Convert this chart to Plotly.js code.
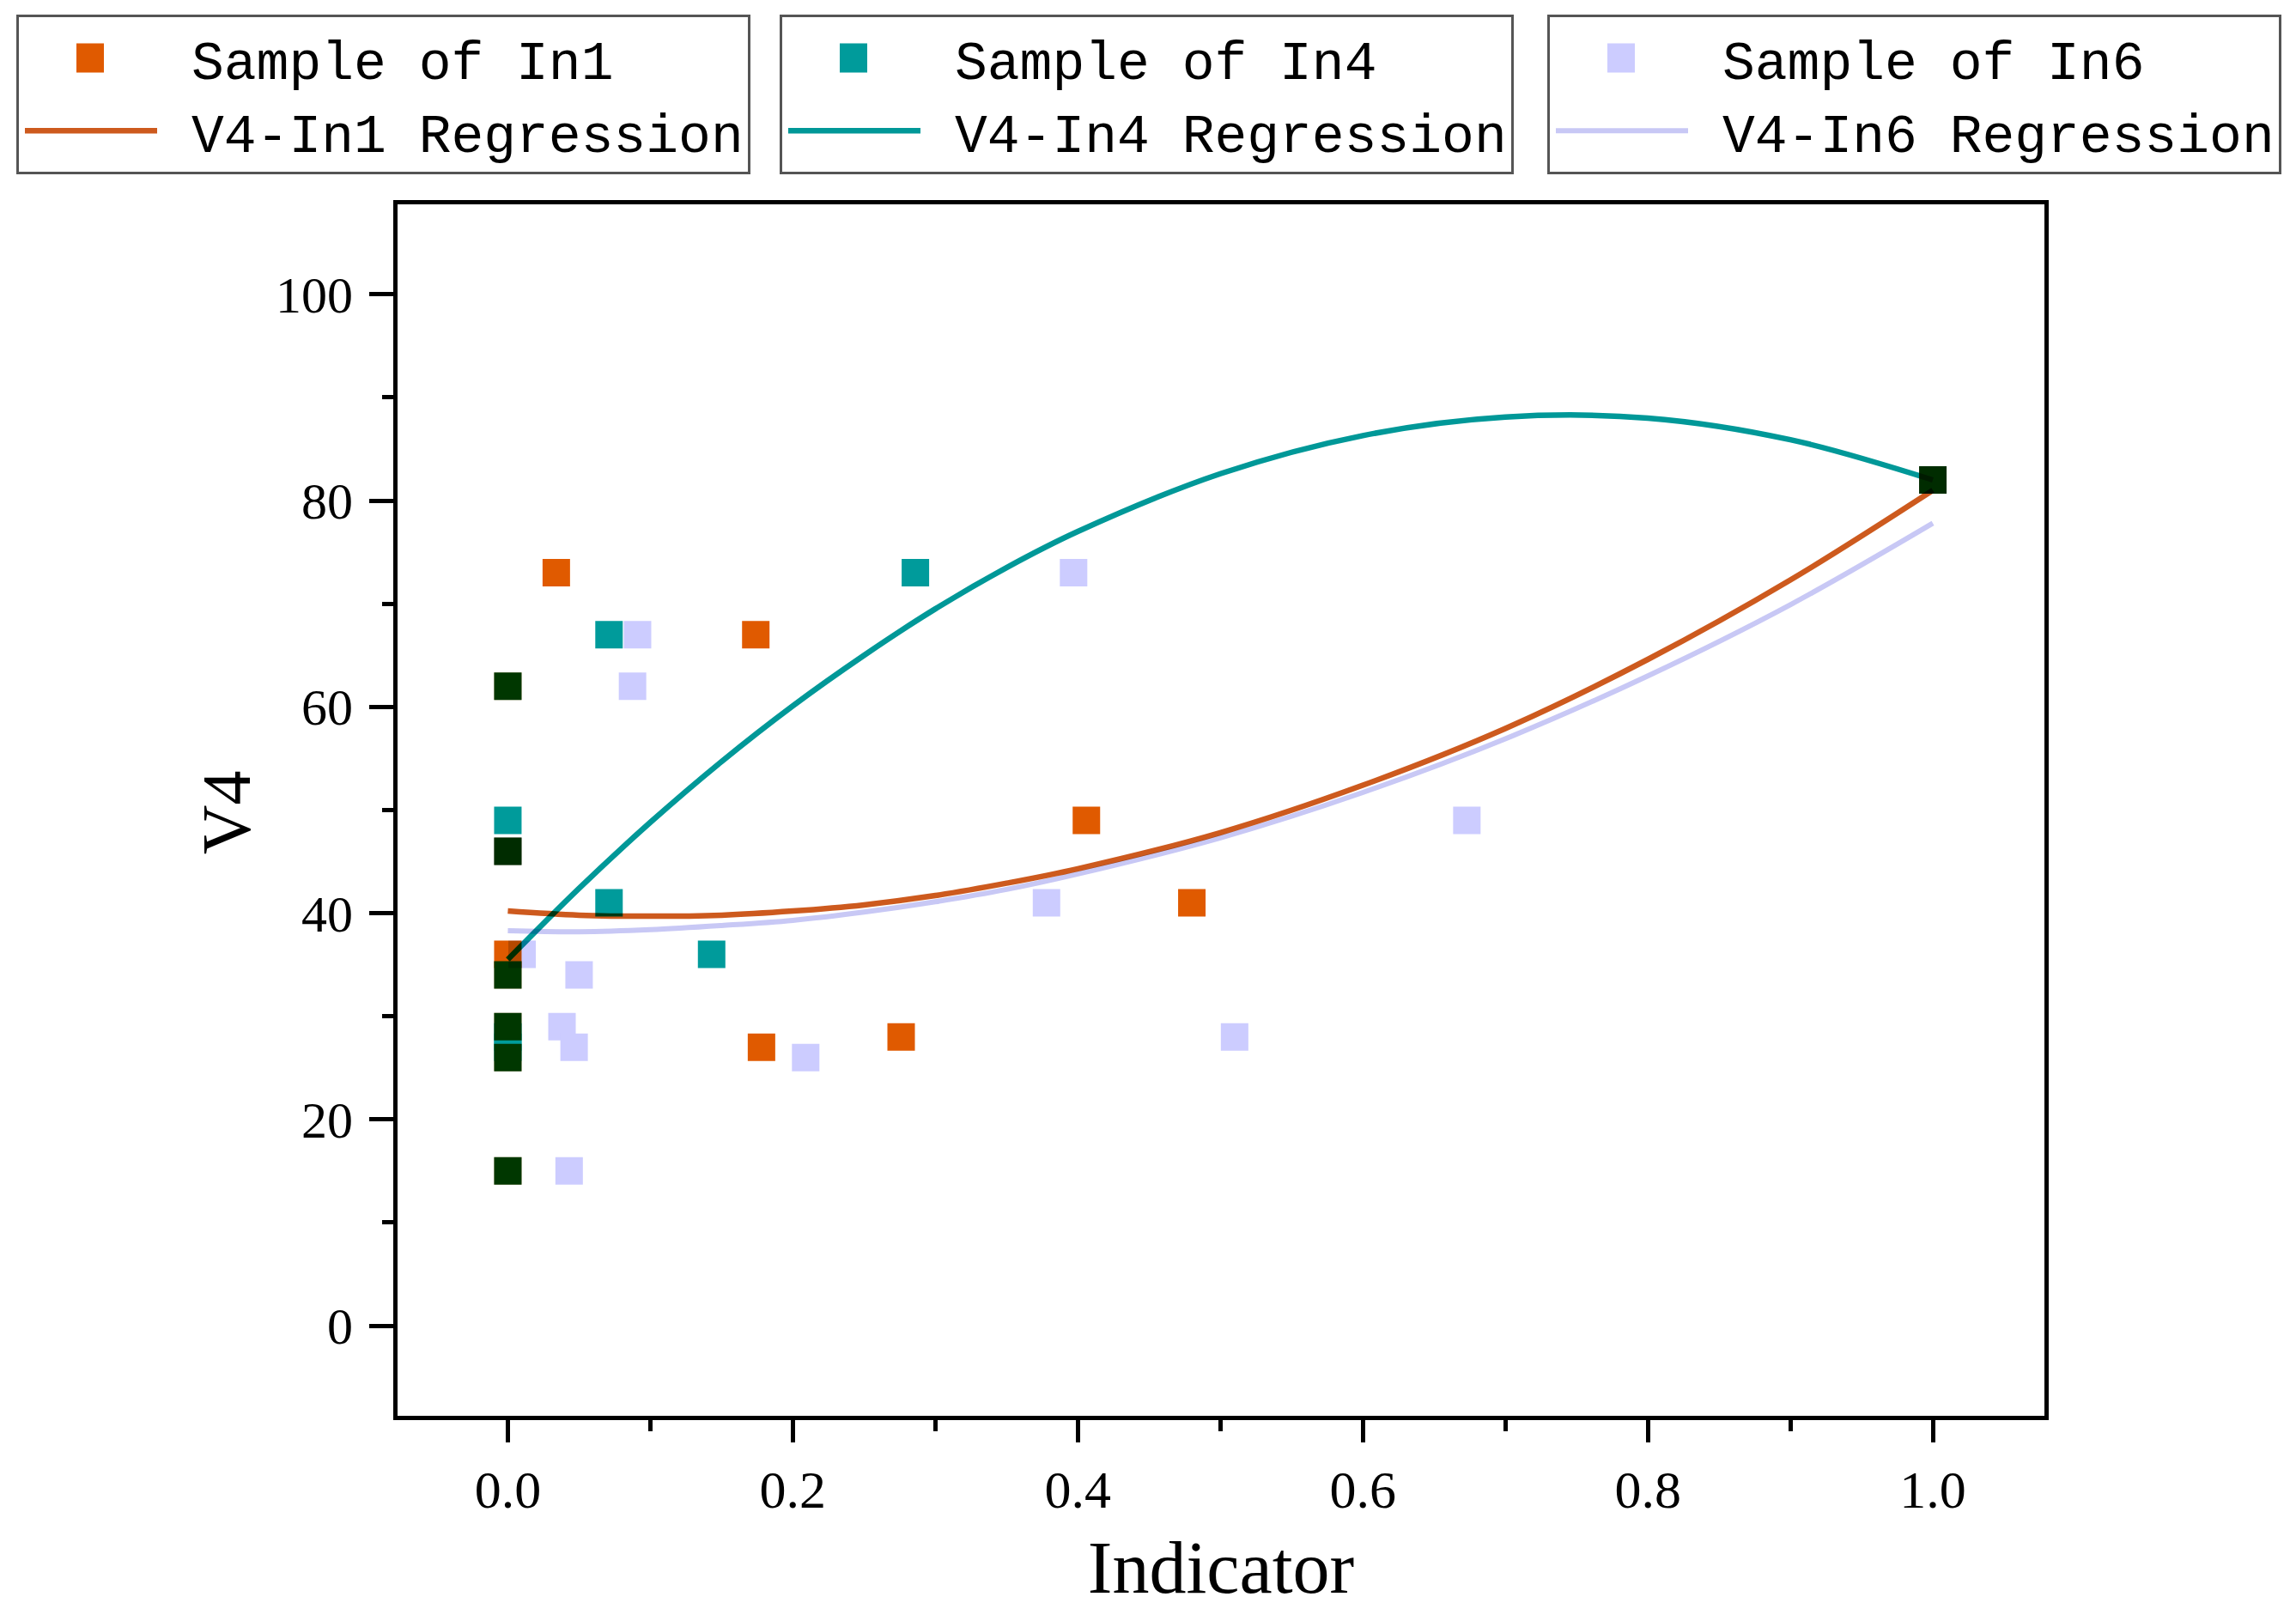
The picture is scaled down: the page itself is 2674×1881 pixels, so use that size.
<!DOCTYPE html>
<html>
<head>
<meta charset="utf-8">
<script src="https://cdn.plot.ly/plotly-3.0.1.min.js"></script>
<style>
  html, body { margin: 0; padding: 0; background: #ffffff; }
  #chart { width: 2674px; height: 1881px; }
  .js-plotly-plot .scatterlayer .trace { mix-blend-mode: multiply; }
</style>
<style id="legendfix"></style>
</head>
<body>
<div id="chart"></div>
<script>
// ---- Data ----
const v4Values = [73, 67, 62, 49, 46, 41, 36, 34, 29, 28, 27, 26, 15, 82];
const in1Values = [0.034, 0.174, 0, 0.406, 0, 0.480, 0, 0, 0, 0.276, 0.178, 0, 0, 1.0];
const in4Values = [0.286, 0.071, 0, 0, 0, 0.071, 0.143, 0, 0, 0, 0, 0, 0, 1.0];
const in6Values = [0.397, 0.091, 0.0875, 0.673, 0, 0.378, 0.010, 0.050, 0.038, 0.510, 0.0465, 0.209, 0.043, 1.0];

// regression curves at these indicator values
const regX = [0, 0.05, 0.1, 0.15, 0.2, 0.25, 0.3, 0.35, 0.4, 0.5, 0.6, 0.7, 0.8, 0.9, 1.0];
const reg1 = [40.2, 39.8, 39.7, 39.8, 40.2, 40.8, 41.7, 42.9, 44.3, 47.8, 52.4, 57.9, 64.6, 72.3, 81.0];
const reg4 = [35.5, 42.4, 48.8, 54.7, 60.1, 65.0, 69.5, 73.5, 77.0, 82.6, 86.3, 88.1, 88.0, 85.9, 82.0];
const reg6 = [38.3, 38.2, 38.4, 38.8, 39.3, 40.1, 41.1, 42.3, 43.8, 47.3, 51.7, 56.9, 63.0, 69.9, 77.8];

const xTickVals = [0, 0.2, 0.4, 0.6, 0.8, 1.0];
const xTickText = ['0.0', '0.2', '0.4', '0.6', '0.8', '1.0'];
const yTickVals = [0, 20, 40, 60, 80, 100];
const yTickText = ['0', '20', '40', '60', '80', '100'];

const xTitle = 'Indicator';
const yTitle = 'V4';
const names = {
  s1: 'Sample of In1', r1: 'V4-In1 Regression',
  s4: 'Sample of In4', r4: 'V4-In4 Regression',
  s6: 'Sample of In6', r6: 'V4-In6 Regression'
};

// ---- Styles ----
const C_ORANGE = '#E05A00', C_ORANGE_LINE = '#CD5A1E';
const C_TEAL = '#009B9B', C_TEAL_LINE = '#009898';
const C_LAV = '#CCCCFF', C_LAV_LINE = '#C8C8F5';
const MONO = 'Liberation Mono, Courier New, monospace';
const SERIF = 'Liberation Serif, Times New Roman, serif';

function markerTrace(x, y, name, color, legend) {
  return { type: 'scatter', mode: 'markers', x: x, y: y, name: name, legend: legend,
    marker: { symbol: 'square', size: 32, color: color, line: { width: 0 } }, cliponaxis: false };
}
function lineTrace(x, y, name, color, width, legend) {
  return { type: 'scatter', mode: 'lines', x: x, y: y, name: name, legend: legend,
    line: { color: color, width: width, shape: 'spline', smoothing: 1 } };
}

const data = [
  markerTrace(in1Values, v4Values, names.s1, C_ORANGE, 'legend'),
  lineTrace(regX, reg1, names.r1, C_ORANGE_LINE, 6.5, 'legend'),
  markerTrace(in4Values, v4Values, names.s4, C_TEAL, 'legend2'),
  lineTrace(regX, reg4, names.r4, C_TEAL_LINE, 6.5, 'legend2'),
  markerTrace(in6Values, v4Values, names.s6, C_LAV, 'legend3'),
  lineTrace(regX, reg6, names.r6, C_LAV_LINE, 6, 'legend3')
];

function legendBox(xpx) {
  return {
    x: xpx / 2674, y: 1 - 17 / 1881, xref: 'container', yref: 'container',
    xanchor: 'left', yanchor: 'top',
    bgcolor: '#ffffff', bordercolor: '#555555', borderwidth: 3,
    font: { family: MONO, size: 63, color: '#000000' },
    itemwidth: 191, traceorder: 'normal', orientation: 'v'
  };
}

const layout = {
  width: 2674, height: 1881,
  paper_bgcolor: '#ffffff', plot_bgcolor: '#ffffff',
  margin: { l: 463, r: 293, t: 238, b: 231.5, pad: 0, autoexpand: false },
  showlegend: true,
  legend: legendBox(19),
  legend2: legendBox(908),
  legend3: legendBox(1802),
  xaxis: {
    range: [-0.0774, 1.0783], showgrid: false, zeroline: false, automargin: true,
    showline: true, linecolor: '#000000', linewidth: 5, mirror: true,
    ticks: 'outside', ticklen: 26, tickwidth: 5, tickcolor: '#000000',
    tickvals: xTickVals, ticktext: xTickText,
    minor: { ticks: 'outside', ticklen: 13, tickwidth: 5, tickcolor: '#000000', dtick: 0.1, tick0: 0 },
    tickfont: { family: SERIF, size: 62, color: '#000000' },
    ticklabelstandoff: 2,
    title: { text: xTitle, font: { family: SERIF, size: 86, color: '#000000' }, standoff: 28 }
  },
  yaxis: {
    range: [-8.74, 108.72], showgrid: false, zeroline: false, automargin: true,
    showline: true, linecolor: '#000000', linewidth: 5, mirror: true,
    ticks: 'outside', ticklen: 28, tickwidth: 5, tickcolor: '#000000',
    tickvals: yTickVals, ticktext: yTickText,
    minor: { ticks: 'outside', ticklen: 13, tickwidth: 5, tickcolor: '#000000', dtick: 10, tick0: 0 },
    tickfont: { family: SERIF, size: 60, color: '#000000' },
    ticklabelstandoff: 7
  },
  annotations: [{
    text: yTitle, xref: 'paper', yref: 'paper', x: (264 - 463) / 1918, y: 0.498,
    xanchor: 'center', yanchor: 'middle', textangle: -90, showarrow: false,
    font: { family: SERIF, size: 80, color: '#000000' }
  }]
};

// Enlarge the legend symbols (Plotly caps legend marker size and line length)
function fixLegendSymbols(gd) {
  let tx = null;
  gd.querySelectorAll('g.traces').forEach(function (g) {
    const t = g.querySelector('text.legendtext');
    if (!t) return;
    const x = parseFloat(t.getAttribute('x'));
    if (!isNaN(x)) tx = x;
    const useX = isNaN(x) ? 0 : x;
    g.querySelectorAll('.legendpoints path').forEach(function (p) {
      p.setAttribute('d', 'M16,17H-16V-17H16Z');
      p.setAttribute('transform', 'translate(' + (useX - 118) + ',0)');
    });
    g.querySelectorAll('.legendlines path').forEach(function (p) {
      p.setAttribute('d', 'M' + (useX - 194) + ',0h154');
    });
  });
  if (tx !== null) {
    document.getElementById('legendfix').textContent =
      '.legendpoints path { d: path("M16,17H-16V-17H16Z") !important; transform: translate(' + (tx - 118) + 'px,0px) !important; }\n' +
      '.legendlines path { d: path("M' + (tx - 194) + ',0h154") !important; }';
  }
}

const gd = document.getElementById('chart');
Plotly.newPlot(gd, data, layout, { staticPlot: true, displayModeBar: false })
  .then(function () {
    fixLegendSymbols(gd);
    gd.on('plotly_afterplot', function () { fixLegendSymbols(gd); });
    let n = 0;
    const iv = setInterval(function () { fixLegendSymbols(gd); if (++n > 40) clearInterval(iv); }, 25);
  });
</script>
</body>
</html>
